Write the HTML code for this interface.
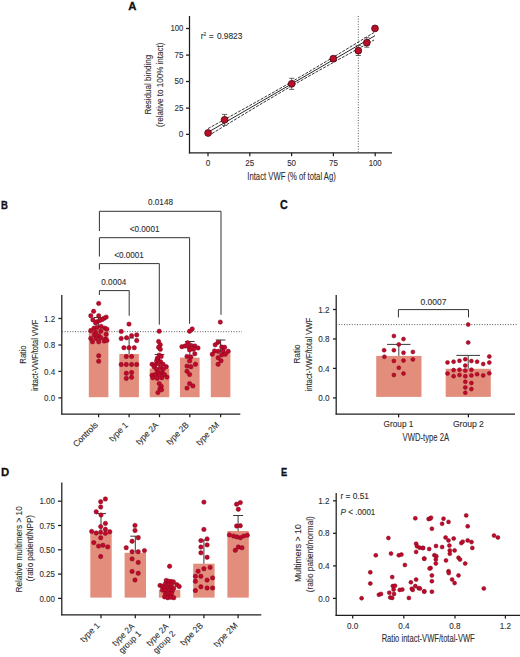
<!DOCTYPE html>
<html><head><meta charset="utf-8"><title>Figure</title>
<style>
html,body{margin:0;padding:0;background:#fff;}
body{width:520px;height:657px;overflow:hidden;font-family:"Liberation Sans", sans-serif;}
svg{display:block;}
svg text{font-family:"Liberation Sans", sans-serif;}
</style></head>
<body>
<svg width="520" height="657" viewBox="0 0 520 657">
<rect x="0" y="0" width="520" height="657" fill="#fff"/>
<text x="128.3" y="9.8" font-size="10.8" text-anchor="start" fill="#111" textLength="8.2" lengthAdjust="spacingAndGlyphs" font-weight="bold" stroke="#111" stroke-width="0.3">A</text>
<line x1="189.5" y1="16" x2="189.5" y2="153.4" stroke="#1e1e1e" stroke-width="1.25"/>
<line x1="188.9" y1="152.8" x2="392" y2="152.8" stroke="#1e1e1e" stroke-width="1.25"/>
<line x1="186" y1="28.5" x2="189.5" y2="28.5" stroke="#1e1e1e" stroke-width="1.25"/>
<text x="183.4" y="31.3" font-size="9.0" text-anchor="end" fill="#2e2e2e" textLength="13.0" lengthAdjust="spacingAndGlyphs" stroke="#2e2e2e" stroke-width="0.1">100</text>
<line x1="186" y1="55.1" x2="189.5" y2="55.1" stroke="#1e1e1e" stroke-width="1.25"/>
<text x="183.4" y="57.9" font-size="9.0" text-anchor="end" fill="#2e2e2e" textLength="8.9" lengthAdjust="spacingAndGlyphs" stroke="#2e2e2e" stroke-width="0.1">75</text>
<line x1="186" y1="81.5" x2="189.5" y2="81.5" stroke="#1e1e1e" stroke-width="1.25"/>
<text x="183.4" y="84.3" font-size="9.0" text-anchor="end" fill="#2e2e2e" textLength="8.9" lengthAdjust="spacingAndGlyphs" stroke="#2e2e2e" stroke-width="0.1">50</text>
<line x1="186" y1="108.1" x2="189.5" y2="108.1" stroke="#1e1e1e" stroke-width="1.25"/>
<text x="183.4" y="110.89999999999999" font-size="9.0" text-anchor="end" fill="#2e2e2e" textLength="8.9" lengthAdjust="spacingAndGlyphs" stroke="#2e2e2e" stroke-width="0.1">25</text>
<line x1="186" y1="134.4" x2="189.5" y2="134.4" stroke="#1e1e1e" stroke-width="1.25"/>
<text x="183.4" y="137.20000000000002" font-size="9.0" text-anchor="end" fill="#2e2e2e" textLength="4.6" lengthAdjust="spacingAndGlyphs" stroke="#2e2e2e" stroke-width="0.1">0</text>
<line x1="208.0" y1="152.8" x2="208.0" y2="156.2" stroke="#1e1e1e" stroke-width="1.25"/>
<text x="208.0" y="166.4" font-size="9.0" text-anchor="middle" fill="#2e2e2e" textLength="4.6" lengthAdjust="spacingAndGlyphs" stroke="#2e2e2e" stroke-width="0.1">0</text>
<line x1="249.8" y1="152.8" x2="249.8" y2="156.2" stroke="#1e1e1e" stroke-width="1.25"/>
<text x="249.8" y="166.4" font-size="9.0" text-anchor="middle" fill="#2e2e2e" textLength="8.9" lengthAdjust="spacingAndGlyphs" stroke="#2e2e2e" stroke-width="0.1">25</text>
<line x1="291.6" y1="152.8" x2="291.6" y2="156.2" stroke="#1e1e1e" stroke-width="1.25"/>
<text x="291.6" y="166.4" font-size="9.0" text-anchor="middle" fill="#2e2e2e" textLength="8.9" lengthAdjust="spacingAndGlyphs" stroke="#2e2e2e" stroke-width="0.1">50</text>
<line x1="333.4" y1="152.8" x2="333.4" y2="156.2" stroke="#1e1e1e" stroke-width="1.25"/>
<text x="333.4" y="166.4" font-size="9.0" text-anchor="middle" fill="#2e2e2e" textLength="8.9" lengthAdjust="spacingAndGlyphs" stroke="#2e2e2e" stroke-width="0.1">75</text>
<line x1="375.2" y1="152.8" x2="375.2" y2="156.2" stroke="#1e1e1e" stroke-width="1.25"/>
<text x="375.2" y="166.4" font-size="9.0" text-anchor="middle" fill="#2e2e2e" textLength="13.0" lengthAdjust="spacingAndGlyphs" stroke="#2e2e2e" stroke-width="0.1">100</text>
<text x="247.3" y="180.3" font-size="10.2" text-anchor="start" fill="#2e2e2e" textLength="88.5" lengthAdjust="spacingAndGlyphs" stroke="#2e2e2e" stroke-width="0.1">Intact VWF (% of total Ag)</text>
<text x="151.2" y="84.7" font-size="8.8" text-anchor="middle" fill="#2e2e2e" textLength="59.8" lengthAdjust="spacingAndGlyphs" stroke="#2e2e2e" stroke-width="0.1" transform="rotate(-90 151.2 84.7)">Residual binding</text>
<text x="163.4" y="84.8" font-size="8.8" text-anchor="middle" fill="#2e2e2e" textLength="84.4" lengthAdjust="spacingAndGlyphs" stroke="#2e2e2e" stroke-width="0.1" transform="rotate(-90 163.4 84.8)">(relative to 100% intact)</text>
<text x="200.8" y="38.8" font-size="8.2" text-anchor="start" fill="#2e2e2e" stroke="#2e2e2e" stroke-width="0.1">r</text>
<text x="203.6" y="35.6" font-size="4.6" text-anchor="start" fill="#2e2e2e" stroke="#2e2e2e" stroke-width="0.1">2</text>
<text x="209.0" y="38.8" font-size="8.2" text-anchor="start" fill="#2e2e2e" textLength="4.6" lengthAdjust="spacingAndGlyphs" stroke="#2e2e2e" stroke-width="0.1">=</text>
<text x="216.9" y="38.8" font-size="8.2" text-anchor="start" fill="#2e2e2e" textLength="25.4" lengthAdjust="spacingAndGlyphs" stroke="#2e2e2e" stroke-width="0.1">0.9823</text>
<line x1="358.3" y1="16" x2="358.3" y2="152.8" stroke="#444" stroke-width="0.9" stroke-dasharray="1 1.6"/>
<path d="M208.5 132.0 L375 35.7" stroke="#000" stroke-width="0.85" fill="none"/>
<path d="M208.0 128.59 L214.0 125.30 L220.0 122.01 L226.0 118.71 L232.0 115.40 L238.0 112.09 L244.0 108.76 L250.0 105.43 L256.0 102.08 L262.0 98.71 L268.0 95.33 L274.0 91.93 L280.0 88.51 L286.0 85.07 L292.0 81.60 L298.0 78.11 L304.0 74.60 L310.0 71.07 L316.0 67.51 L322.0 63.94 L328.0 60.35 L334.0 56.75 L340.0 53.14 L346.0 49.52 L352.0 45.89 L358.0 42.25 L364.0 38.61 L374.0 32.52" stroke="#000" stroke-width="0.8" fill="none" stroke-dasharray="3 1.3"/>
<path d="M212.0 133.55 L218.0 129.90 L224.0 126.26 L230.0 122.63 L236.0 119.00 L242.0 115.38 L248.0 111.77 L254.0 108.17 L260.0 104.59 L266.0 101.02 L272.0 97.48 L278.0 93.95 L284.0 90.44 L290.0 86.96 L296.0 83.50 L302.0 80.07 L308.0 76.65 L314.0 73.26 L320.0 69.89 L326.0 66.53 L332.0 63.19 L338.0 59.85 L344.0 56.53 L350.0 53.22 L356.0 49.91 L362.0 46.62 L368.0 43.32 L374.0 40.04" stroke="#000" stroke-width="0.8" fill="none" stroke-dasharray="3 1.3"/>
<line x1="224.6" y1="114.4" x2="224.6" y2="125.4" stroke="#555" stroke-width="0.9"/>
<line x1="222.0" y1="114.4" x2="227.2" y2="114.4" stroke="#555" stroke-width="0.9"/>
<line x1="222.0" y1="125.4" x2="227.2" y2="125.4" stroke="#555" stroke-width="0.9"/>
<line x1="291.7" y1="78.3" x2="291.7" y2="89.4" stroke="#555" stroke-width="0.9"/>
<line x1="289.09999999999997" y1="78.3" x2="294.3" y2="78.3" stroke="#555" stroke-width="0.9"/>
<line x1="289.09999999999997" y1="89.4" x2="294.3" y2="89.4" stroke="#555" stroke-width="0.9"/>
<line x1="358.3" y1="45.5" x2="358.3" y2="55.5" stroke="#555" stroke-width="0.9"/>
<line x1="355.7" y1="45.5" x2="360.90000000000003" y2="45.5" stroke="#555" stroke-width="0.9"/>
<line x1="355.7" y1="55.5" x2="360.90000000000003" y2="55.5" stroke="#555" stroke-width="0.9"/>
<line x1="366.8" y1="37.7" x2="366.8" y2="47.2" stroke="#555" stroke-width="0.9"/>
<line x1="364.2" y1="37.7" x2="369.40000000000003" y2="37.7" stroke="#555" stroke-width="0.9"/>
<line x1="364.2" y1="47.2" x2="369.40000000000003" y2="47.2" stroke="#555" stroke-width="0.9"/>
<circle cx="208.1" cy="133.0" r="3.4" fill="#b80e2a" stroke="#4a0510" stroke-width="0.8"/>
<circle cx="224.6" cy="119.8" r="3.4" fill="#b80e2a" stroke="#4a0510" stroke-width="0.8"/>
<circle cx="291.7" cy="83.8" r="3.4" fill="#b80e2a" stroke="#4a0510" stroke-width="0.8"/>
<circle cx="333.3" cy="58.7" r="3.4" fill="#b80e2a" stroke="#4a0510" stroke-width="0.8"/>
<circle cx="358.3" cy="50.7" r="3.4" fill="#b80e2a" stroke="#4a0510" stroke-width="0.8"/>
<circle cx="366.8" cy="42.7" r="3.4" fill="#b80e2a" stroke="#4a0510" stroke-width="0.8"/>
<circle cx="375.0" cy="28.4" r="3.4" fill="#b80e2a" stroke="#4a0510" stroke-width="0.8"/>
<text x="1.0" y="208.7" font-size="11.6" text-anchor="start" fill="#111" textLength="6.9" lengthAdjust="spacingAndGlyphs" font-weight="bold" stroke="#111" stroke-width="0.3">B</text>
<line x1="61.8" y1="295" x2="61.8" y2="414.6" stroke="#1e1e1e" stroke-width="1.25"/>
<line x1="61.2" y1="414.0" x2="240.3" y2="414.0" stroke="#1e1e1e" stroke-width="1.25"/>
<line x1="58.4" y1="318.5" x2="61.8" y2="318.5" stroke="#1e1e1e" stroke-width="1.25"/>
<text x="55.1" y="321.6" font-size="9.0" text-anchor="end" fill="#2e2e2e" textLength="11.1" lengthAdjust="spacingAndGlyphs" stroke="#2e2e2e" stroke-width="0.1">1.2</text>
<line x1="58.4" y1="345.0" x2="61.8" y2="345.0" stroke="#1e1e1e" stroke-width="1.25"/>
<text x="55.1" y="348.1" font-size="9.0" text-anchor="end" fill="#2e2e2e" textLength="11.1" lengthAdjust="spacingAndGlyphs" stroke="#2e2e2e" stroke-width="0.1">0.8</text>
<line x1="58.4" y1="371.4" x2="61.8" y2="371.4" stroke="#1e1e1e" stroke-width="1.25"/>
<text x="55.1" y="374.5" font-size="9.0" text-anchor="end" fill="#2e2e2e" textLength="11.1" lengthAdjust="spacingAndGlyphs" stroke="#2e2e2e" stroke-width="0.1">0.4</text>
<line x1="58.4" y1="397.9" x2="61.8" y2="397.9" stroke="#1e1e1e" stroke-width="1.25"/>
<text x="55.1" y="401.0" font-size="9.0" text-anchor="end" fill="#2e2e2e" textLength="11.1" lengthAdjust="spacingAndGlyphs" stroke="#2e2e2e" stroke-width="0.1">0.0</text>
<text x="26.0" y="354.5" font-size="9.6" text-anchor="middle" fill="#2e2e2e" textLength="18.3" lengthAdjust="spacingAndGlyphs" stroke="#2e2e2e" stroke-width="0.1" transform="rotate(-90 26.0 354.5)">Ratio</text>
<text x="37.6" y="355.3" font-size="8.8" text-anchor="middle" fill="#2e2e2e" textLength="71.3" lengthAdjust="spacingAndGlyphs" stroke="#2e2e2e" stroke-width="0.1" transform="rotate(-90 37.6 355.3)">intact-VWF/total VWF</text>
<line x1="62" y1="331.7" x2="242" y2="331.7" stroke="#444" stroke-width="0.9" stroke-dasharray="1 1.6"/>
<rect x="88.8" y="328.0" width="19.60" height="69.20" fill="#e38e7d"/>
<rect x="119.3" y="354.0" width="19.60" height="43.20" fill="#e38e7d"/>
<rect x="149.7" y="368.5" width="19.60" height="28.70" fill="#e38e7d"/>
<rect x="180.0" y="357.6" width="19.60" height="39.60" fill="#e38e7d"/>
<rect x="210.79999999999998" y="352.6" width="19.60" height="44.60" fill="#e38e7d"/>
<line x1="98.6" y1="414.0" x2="98.6" y2="417.2" stroke="#1e1e1e" stroke-width="1.25"/>
<line x1="129.1" y1="414.0" x2="129.1" y2="417.2" stroke="#1e1e1e" stroke-width="1.25"/>
<line x1="159.5" y1="414.0" x2="159.5" y2="417.2" stroke="#1e1e1e" stroke-width="1.25"/>
<line x1="189.8" y1="414.0" x2="189.8" y2="417.2" stroke="#1e1e1e" stroke-width="1.25"/>
<line x1="220.6" y1="414.0" x2="220.6" y2="417.2" stroke="#1e1e1e" stroke-width="1.25"/>
<path d="M99.4 231.0 L99.4 211.3 L221.0 211.3 L221.0 314.8" stroke="#333" stroke-width="1.0" fill="none"/>
<path d="M99.4 256.5 L99.4 237.7 L189.6 237.7 L189.6 323.8" stroke="#333" stroke-width="1.0" fill="none"/>
<path d="M99.4 269.6 L99.4 263.6 L159.3 263.6 L159.3 324.7" stroke="#333" stroke-width="1.0" fill="none"/>
<path d="M99.4 295.0 L99.4 290.6 L129.2 290.6 L129.2 315.8" stroke="#333" stroke-width="1.0" fill="none"/>
<text x="160.5" y="205.0" font-size="8.2" text-anchor="middle" fill="#2e2e2e" textLength="25.0" lengthAdjust="spacingAndGlyphs" stroke="#2e2e2e" stroke-width="0.1">0.0148</text>
<text x="144.6" y="231.8" font-size="8.2" text-anchor="middle" fill="#2e2e2e" textLength="29.7" lengthAdjust="spacingAndGlyphs" stroke="#2e2e2e" stroke-width="0.1">&lt;0.0001</text>
<text x="129.0" y="258.2" font-size="8.2" text-anchor="middle" fill="#2e2e2e" textLength="29.7" lengthAdjust="spacingAndGlyphs" stroke="#2e2e2e" stroke-width="0.1">&lt;0.0001</text>
<text x="113.8" y="284.6" font-size="8.2" text-anchor="middle" fill="#2e2e2e" textLength="25.0" lengthAdjust="spacingAndGlyphs" stroke="#2e2e2e" stroke-width="0.1">0.0004</text>
<text x="98.4" y="425.6" font-size="8.6" text-anchor="end" fill="#2e2e2e" textLength="31.0" lengthAdjust="spacingAndGlyphs" stroke="#2e2e2e" stroke-width="0.1" transform="rotate(-45 98.4 425.6)">Controls</text>
<text x="128.7" y="425.6" font-size="8.6" text-anchor="end" fill="#2e2e2e" textLength="23.3" lengthAdjust="spacingAndGlyphs" stroke="#2e2e2e" stroke-width="0.1" transform="rotate(-45 128.7 425.6)">type 1</text>
<text x="159.0" y="425.6" font-size="8.6" text-anchor="end" fill="#2e2e2e" textLength="27.8" lengthAdjust="spacingAndGlyphs" stroke="#2e2e2e" stroke-width="0.1" transform="rotate(-45 159.0 425.6)">type 2A</text>
<text x="189.4" y="425.6" font-size="8.6" text-anchor="end" fill="#2e2e2e" textLength="27.8" lengthAdjust="spacingAndGlyphs" stroke="#2e2e2e" stroke-width="0.1" transform="rotate(-45 189.4 425.6)">type 2B</text>
<text x="219.8" y="425.6" font-size="8.6" text-anchor="end" fill="#2e2e2e" textLength="28.7" lengthAdjust="spacingAndGlyphs" stroke="#2e2e2e" stroke-width="0.1" transform="rotate(-45 219.8 425.6)">type 2M</text>
<line x1="98.6" y1="317.5" x2="98.6" y2="328.0" stroke="#3a3a3a" stroke-width="1.0"/>
<line x1="93.8" y1="317.5" x2="103.39999999999999" y2="317.5" stroke="#3a3a3a" stroke-width="1.0"/>
<line x1="129.1" y1="338.0" x2="129.1" y2="354.0" stroke="#3a3a3a" stroke-width="1.0"/>
<line x1="124.3" y1="338.0" x2="133.9" y2="338.0" stroke="#3a3a3a" stroke-width="1.0"/>
<line x1="159.5" y1="354.5" x2="159.5" y2="368.5" stroke="#3a3a3a" stroke-width="1.0"/>
<line x1="154.7" y1="354.5" x2="164.3" y2="354.5" stroke="#3a3a3a" stroke-width="1.0"/>
<line x1="189.8" y1="341.5" x2="189.8" y2="357.6" stroke="#3a3a3a" stroke-width="1.0"/>
<line x1="185.0" y1="341.5" x2="194.60000000000002" y2="341.5" stroke="#3a3a3a" stroke-width="1.0"/>
<line x1="220.6" y1="340.0" x2="220.6" y2="352.6" stroke="#3a3a3a" stroke-width="1.0"/>
<line x1="215.79999999999998" y1="340.0" x2="225.4" y2="340.0" stroke="#3a3a3a" stroke-width="1.0"/>
<circle cx="98.7" cy="303.4" r="2.2" fill="#c2082b" stroke="#7c0a1c" stroke-width="0.5"/>
<circle cx="93.6" cy="311.3" r="2.2" fill="#c2082b" stroke="#7c0a1c" stroke-width="0.5"/>
<circle cx="90.8" cy="315.8" r="2.2" fill="#c2082b" stroke="#7c0a1c" stroke-width="0.5"/>
<circle cx="98.7" cy="315.8" r="2.2" fill="#c2082b" stroke="#7c0a1c" stroke-width="0.5"/>
<circle cx="106.2" cy="317.1" r="2.2" fill="#c2082b" stroke="#7c0a1c" stroke-width="0.5"/>
<circle cx="104.2" cy="318.2" r="2.2" fill="#c2082b" stroke="#7c0a1c" stroke-width="0.5"/>
<circle cx="102.1" cy="319.5" r="2.2" fill="#c2082b" stroke="#7c0a1c" stroke-width="0.5"/>
<circle cx="99.7" cy="320.5" r="2.2" fill="#c2082b" stroke="#7c0a1c" stroke-width="0.5"/>
<circle cx="97.3" cy="321.6" r="2.2" fill="#c2082b" stroke="#7c0a1c" stroke-width="0.5"/>
<circle cx="92.9" cy="319.9" r="2.2" fill="#c2082b" stroke="#7c0a1c" stroke-width="0.5"/>
<circle cx="95.6" cy="322.9" r="2.2" fill="#c2082b" stroke="#7c0a1c" stroke-width="0.5"/>
<circle cx="93.9" cy="328.1" r="2.2" fill="#c2082b" stroke="#7c0a1c" stroke-width="0.5"/>
<circle cx="97.0" cy="327.4" r="2.2" fill="#c2082b" stroke="#7c0a1c" stroke-width="0.5"/>
<circle cx="101.1" cy="326.4" r="2.2" fill="#c2082b" stroke="#7c0a1c" stroke-width="0.5"/>
<circle cx="104.9" cy="328.1" r="2.2" fill="#c2082b" stroke="#7c0a1c" stroke-width="0.5"/>
<circle cx="106.9" cy="329.1" r="2.2" fill="#c2082b" stroke="#7c0a1c" stroke-width="0.5"/>
<circle cx="90.8" cy="330.8" r="2.2" fill="#c2082b" stroke="#7c0a1c" stroke-width="0.5"/>
<circle cx="95.6" cy="332.2" r="2.2" fill="#c2082b" stroke="#7c0a1c" stroke-width="0.5"/>
<circle cx="100.8" cy="331.2" r="2.2" fill="#c2082b" stroke="#7c0a1c" stroke-width="0.5"/>
<circle cx="106.2" cy="334.2" r="2.2" fill="#c2082b" stroke="#7c0a1c" stroke-width="0.5"/>
<circle cx="94.2" cy="334.9" r="2.2" fill="#c2082b" stroke="#7c0a1c" stroke-width="0.5"/>
<circle cx="98.7" cy="335.6" r="2.2" fill="#c2082b" stroke="#7c0a1c" stroke-width="0.5"/>
<circle cx="90.8" cy="338.4" r="2.2" fill="#c2082b" stroke="#7c0a1c" stroke-width="0.5"/>
<circle cx="96.0" cy="338.4" r="2.2" fill="#c2082b" stroke="#7c0a1c" stroke-width="0.5"/>
<circle cx="100.8" cy="337.7" r="2.2" fill="#c2082b" stroke="#7c0a1c" stroke-width="0.5"/>
<circle cx="105.5" cy="339.0" r="2.2" fill="#c2082b" stroke="#7c0a1c" stroke-width="0.5"/>
<circle cx="92.5" cy="341.8" r="2.2" fill="#c2082b" stroke="#7c0a1c" stroke-width="0.5"/>
<circle cx="98.7" cy="341.8" r="2.2" fill="#c2082b" stroke="#7c0a1c" stroke-width="0.5"/>
<circle cx="104.2" cy="341.1" r="2.2" fill="#c2082b" stroke="#7c0a1c" stroke-width="0.5"/>
<circle cx="106.9" cy="340.4" r="2.2" fill="#c2082b" stroke="#7c0a1c" stroke-width="0.5"/>
<circle cx="98.7" cy="355.7" r="2.2" fill="#c2082b" stroke="#7c0a1c" stroke-width="0.5"/>
<circle cx="98.7" cy="361.3" r="2.2" fill="#c2082b" stroke="#7c0a1c" stroke-width="0.5"/>
<circle cx="129.0" cy="324.1" r="2.2" fill="#c2082b" stroke="#7c0a1c" stroke-width="0.5"/>
<circle cx="121.2" cy="331.4" r="2.2" fill="#c2082b" stroke="#7c0a1c" stroke-width="0.5"/>
<circle cx="121.2" cy="338.5" r="2.2" fill="#c2082b" stroke="#7c0a1c" stroke-width="0.5"/>
<circle cx="126.6" cy="337.8" r="2.2" fill="#c2082b" stroke="#7c0a1c" stroke-width="0.5"/>
<circle cx="131.6" cy="335.7" r="2.2" fill="#c2082b" stroke="#7c0a1c" stroke-width="0.5"/>
<circle cx="136.7" cy="334.9" r="2.2" fill="#c2082b" stroke="#7c0a1c" stroke-width="0.5"/>
<circle cx="136.7" cy="340.5" r="2.2" fill="#c2082b" stroke="#7c0a1c" stroke-width="0.5"/>
<circle cx="123.9" cy="347.7" r="2.2" fill="#c2082b" stroke="#7c0a1c" stroke-width="0.5"/>
<circle cx="129.0" cy="347.7" r="2.2" fill="#c2082b" stroke="#7c0a1c" stroke-width="0.5"/>
<circle cx="134.3" cy="347.7" r="2.2" fill="#c2082b" stroke="#7c0a1c" stroke-width="0.5"/>
<circle cx="126.3" cy="356.5" r="2.2" fill="#c2082b" stroke="#7c0a1c" stroke-width="0.5"/>
<circle cx="131.6" cy="356.5" r="2.2" fill="#c2082b" stroke="#7c0a1c" stroke-width="0.5"/>
<circle cx="121.2" cy="364.5" r="2.2" fill="#c2082b" stroke="#7c0a1c" stroke-width="0.5"/>
<circle cx="126.3" cy="364.5" r="2.2" fill="#c2082b" stroke="#7c0a1c" stroke-width="0.5"/>
<circle cx="131.6" cy="364.5" r="2.2" fill="#c2082b" stroke="#7c0a1c" stroke-width="0.5"/>
<circle cx="136.7" cy="364.5" r="2.2" fill="#c2082b" stroke="#7c0a1c" stroke-width="0.5"/>
<circle cx="126.3" cy="373.3" r="2.2" fill="#c2082b" stroke="#7c0a1c" stroke-width="0.5"/>
<circle cx="131.6" cy="372.5" r="2.2" fill="#c2082b" stroke="#7c0a1c" stroke-width="0.5"/>
<circle cx="126.3" cy="378.4" r="2.2" fill="#c2082b" stroke="#7c0a1c" stroke-width="0.5"/>
<circle cx="131.6" cy="377.3" r="2.2" fill="#c2082b" stroke="#7c0a1c" stroke-width="0.5"/>
<circle cx="159.2" cy="331.2" r="2.2" fill="#c2082b" stroke="#7c0a1c" stroke-width="0.5"/>
<circle cx="158.6" cy="341.5" r="2.2" fill="#c2082b" stroke="#7c0a1c" stroke-width="0.5"/>
<circle cx="160.3" cy="344.8" r="2.2" fill="#c2082b" stroke="#7c0a1c" stroke-width="0.5"/>
<circle cx="158.6" cy="347.3" r="2.2" fill="#c2082b" stroke="#7c0a1c" stroke-width="0.5"/>
<circle cx="160.3" cy="349.3" r="2.2" fill="#c2082b" stroke="#7c0a1c" stroke-width="0.5"/>
<circle cx="159.2" cy="355.1" r="2.2" fill="#c2082b" stroke="#7c0a1c" stroke-width="0.5"/>
<circle cx="161.2" cy="356.4" r="2.2" fill="#c2082b" stroke="#7c0a1c" stroke-width="0.5"/>
<circle cx="157.3" cy="358.3" r="2.2" fill="#c2082b" stroke="#7c0a1c" stroke-width="0.5"/>
<circle cx="156.6" cy="360.9" r="2.2" fill="#c2082b" stroke="#7c0a1c" stroke-width="0.5"/>
<circle cx="160.5" cy="361.6" r="2.2" fill="#c2082b" stroke="#7c0a1c" stroke-width="0.5"/>
<circle cx="152.1" cy="364.2" r="2.2" fill="#c2082b" stroke="#7c0a1c" stroke-width="0.5"/>
<circle cx="155.3" cy="364.8" r="2.2" fill="#c2082b" stroke="#7c0a1c" stroke-width="0.5"/>
<circle cx="158.6" cy="363.5" r="2.2" fill="#c2082b" stroke="#7c0a1c" stroke-width="0.5"/>
<circle cx="163.1" cy="364.2" r="2.2" fill="#c2082b" stroke="#7c0a1c" stroke-width="0.5"/>
<circle cx="166.3" cy="366.7" r="2.2" fill="#c2082b" stroke="#7c0a1c" stroke-width="0.5"/>
<circle cx="154.0" cy="366.7" r="2.2" fill="#c2082b" stroke="#7c0a1c" stroke-width="0.5"/>
<circle cx="160.5" cy="367.4" r="2.2" fill="#c2082b" stroke="#7c0a1c" stroke-width="0.5"/>
<circle cx="163.1" cy="369.3" r="2.2" fill="#c2082b" stroke="#7c0a1c" stroke-width="0.5"/>
<circle cx="156.6" cy="369.3" r="2.2" fill="#c2082b" stroke="#7c0a1c" stroke-width="0.5"/>
<circle cx="157.9" cy="371.9" r="2.2" fill="#c2082b" stroke="#7c0a1c" stroke-width="0.5"/>
<circle cx="161.8" cy="372.6" r="2.2" fill="#c2082b" stroke="#7c0a1c" stroke-width="0.5"/>
<circle cx="152.1" cy="375.2" r="2.2" fill="#c2082b" stroke="#7c0a1c" stroke-width="0.5"/>
<circle cx="155.3" cy="374.5" r="2.2" fill="#c2082b" stroke="#7c0a1c" stroke-width="0.5"/>
<circle cx="159.2" cy="374.5" r="2.2" fill="#c2082b" stroke="#7c0a1c" stroke-width="0.5"/>
<circle cx="164.4" cy="374.5" r="2.2" fill="#c2082b" stroke="#7c0a1c" stroke-width="0.5"/>
<circle cx="167.0" cy="377.1" r="2.2" fill="#c2082b" stroke="#7c0a1c" stroke-width="0.5"/>
<circle cx="152.8" cy="377.7" r="2.2" fill="#c2082b" stroke="#7c0a1c" stroke-width="0.5"/>
<circle cx="157.3" cy="378.4" r="2.2" fill="#c2082b" stroke="#7c0a1c" stroke-width="0.5"/>
<circle cx="161.8" cy="377.7" r="2.2" fill="#c2082b" stroke="#7c0a1c" stroke-width="0.5"/>
<circle cx="159.2" cy="383.6" r="2.2" fill="#c2082b" stroke="#7c0a1c" stroke-width="0.5"/>
<circle cx="161.2" cy="386.2" r="2.2" fill="#c2082b" stroke="#7c0a1c" stroke-width="0.5"/>
<circle cx="159.9" cy="388.7" r="2.2" fill="#c2082b" stroke="#7c0a1c" stroke-width="0.5"/>
<circle cx="161.6" cy="389.8" r="2.2" fill="#c2082b" stroke="#7c0a1c" stroke-width="0.5"/>
<circle cx="157.9" cy="392.6" r="2.2" fill="#c2082b" stroke="#7c0a1c" stroke-width="0.5"/>
<circle cx="189.6" cy="331.2" r="2.2" fill="#c2082b" stroke="#7c0a1c" stroke-width="0.5"/>
<circle cx="192.2" cy="329.0" r="2.2" fill="#c2082b" stroke="#7c0a1c" stroke-width="0.5"/>
<circle cx="187.7" cy="342.8" r="2.2" fill="#c2082b" stroke="#7c0a1c" stroke-width="0.5"/>
<circle cx="181.9" cy="346.7" r="2.2" fill="#c2082b" stroke="#7c0a1c" stroke-width="0.5"/>
<circle cx="185.1" cy="346.0" r="2.2" fill="#c2082b" stroke="#7c0a1c" stroke-width="0.5"/>
<circle cx="189.0" cy="347.3" r="2.2" fill="#c2082b" stroke="#7c0a1c" stroke-width="0.5"/>
<circle cx="190.9" cy="345.4" r="2.2" fill="#c2082b" stroke="#7c0a1c" stroke-width="0.5"/>
<circle cx="194.8" cy="346.0" r="2.2" fill="#c2082b" stroke="#7c0a1c" stroke-width="0.5"/>
<circle cx="198.0" cy="348.0" r="2.2" fill="#c2082b" stroke="#7c0a1c" stroke-width="0.5"/>
<circle cx="193.5" cy="349.3" r="2.2" fill="#c2082b" stroke="#7c0a1c" stroke-width="0.5"/>
<circle cx="189.6" cy="349.9" r="2.2" fill="#c2082b" stroke="#7c0a1c" stroke-width="0.5"/>
<circle cx="194.8" cy="353.8" r="2.2" fill="#c2082b" stroke="#7c0a1c" stroke-width="0.5"/>
<circle cx="187.0" cy="356.4" r="2.2" fill="#c2082b" stroke="#7c0a1c" stroke-width="0.5"/>
<circle cx="190.9" cy="357.0" r="2.2" fill="#c2082b" stroke="#7c0a1c" stroke-width="0.5"/>
<circle cx="189.6" cy="360.9" r="2.2" fill="#c2082b" stroke="#7c0a1c" stroke-width="0.5"/>
<circle cx="195.5" cy="364.2" r="2.2" fill="#c2082b" stroke="#7c0a1c" stroke-width="0.5"/>
<circle cx="187.0" cy="366.1" r="2.2" fill="#c2082b" stroke="#7c0a1c" stroke-width="0.5"/>
<circle cx="190.9" cy="366.7" r="2.2" fill="#c2082b" stroke="#7c0a1c" stroke-width="0.5"/>
<circle cx="187.0" cy="371.3" r="2.2" fill="#c2082b" stroke="#7c0a1c" stroke-width="0.5"/>
<circle cx="189.6" cy="374.5" r="2.2" fill="#c2082b" stroke="#7c0a1c" stroke-width="0.5"/>
<circle cx="189.6" cy="383.6" r="2.2" fill="#c2082b" stroke="#7c0a1c" stroke-width="0.5"/>
<circle cx="192.9" cy="385.9" r="2.2" fill="#c2082b" stroke="#7c0a1c" stroke-width="0.5"/>
<circle cx="187.0" cy="388.1" r="2.2" fill="#c2082b" stroke="#7c0a1c" stroke-width="0.5"/>
<circle cx="220.3" cy="322.1" r="2.2" fill="#c2082b" stroke="#7c0a1c" stroke-width="0.5"/>
<circle cx="218.1" cy="342.3" r="2.2" fill="#c2082b" stroke="#7c0a1c" stroke-width="0.5"/>
<circle cx="215.2" cy="344.8" r="2.2" fill="#c2082b" stroke="#7c0a1c" stroke-width="0.5"/>
<circle cx="221.7" cy="347.0" r="2.2" fill="#c2082b" stroke="#7c0a1c" stroke-width="0.5"/>
<circle cx="224.6" cy="347.3" r="2.2" fill="#c2082b" stroke="#7c0a1c" stroke-width="0.5"/>
<circle cx="214.5" cy="351.0" r="2.2" fill="#c2082b" stroke="#7c0a1c" stroke-width="0.5"/>
<circle cx="218.1" cy="351.3" r="2.2" fill="#c2082b" stroke="#7c0a1c" stroke-width="0.5"/>
<circle cx="223.2" cy="351.0" r="2.2" fill="#c2082b" stroke="#7c0a1c" stroke-width="0.5"/>
<circle cx="228.2" cy="351.3" r="2.2" fill="#c2082b" stroke="#7c0a1c" stroke-width="0.5"/>
<circle cx="212.3" cy="354.2" r="2.2" fill="#c2082b" stroke="#7c0a1c" stroke-width="0.5"/>
<circle cx="221.7" cy="354.9" r="2.2" fill="#c2082b" stroke="#7c0a1c" stroke-width="0.5"/>
<circle cx="225.3" cy="354.2" r="2.2" fill="#c2082b" stroke="#7c0a1c" stroke-width="0.5"/>
<circle cx="218.1" cy="357.8" r="2.2" fill="#c2082b" stroke="#7c0a1c" stroke-width="0.5"/>
<circle cx="221.0" cy="360.7" r="2.2" fill="#c2082b" stroke="#7c0a1c" stroke-width="0.5"/>
<circle cx="218.1" cy="364.3" r="2.2" fill="#c2082b" stroke="#7c0a1c" stroke-width="0.5"/>
<text x="280.1" y="208.7" font-size="12.0" text-anchor="start" fill="#111" textLength="7.8" lengthAdjust="spacingAndGlyphs" font-weight="bold" stroke="#111" stroke-width="0.3">C</text>
<line x1="336.2" y1="295" x2="336.2" y2="414.6" stroke="#1e1e1e" stroke-width="1.25"/>
<line x1="335.6" y1="414.0" x2="515.0" y2="414.0" stroke="#1e1e1e" stroke-width="1.25"/>
<line x1="333.0" y1="309.5" x2="336.2" y2="309.5" stroke="#1e1e1e" stroke-width="1.25"/>
<text x="329.6" y="312.6" font-size="9.0" text-anchor="end" fill="#2e2e2e" textLength="11.3" lengthAdjust="spacingAndGlyphs" stroke="#2e2e2e" stroke-width="0.1">1.2</text>
<line x1="333.0" y1="339.0" x2="336.2" y2="339.0" stroke="#1e1e1e" stroke-width="1.25"/>
<text x="329.6" y="342.1" font-size="9.0" text-anchor="end" fill="#2e2e2e" textLength="11.3" lengthAdjust="spacingAndGlyphs" stroke="#2e2e2e" stroke-width="0.1">0.8</text>
<line x1="333.0" y1="368.4" x2="336.2" y2="368.4" stroke="#1e1e1e" stroke-width="1.25"/>
<text x="329.6" y="371.5" font-size="9.0" text-anchor="end" fill="#2e2e2e" textLength="11.3" lengthAdjust="spacingAndGlyphs" stroke="#2e2e2e" stroke-width="0.1">0.4</text>
<line x1="333.0" y1="397.9" x2="336.2" y2="397.9" stroke="#1e1e1e" stroke-width="1.25"/>
<text x="329.6" y="401.0" font-size="9.0" text-anchor="end" fill="#2e2e2e" textLength="11.3" lengthAdjust="spacingAndGlyphs" stroke="#2e2e2e" stroke-width="0.1">0.0</text>
<text x="300.2" y="354.0" font-size="9.6" text-anchor="middle" fill="#2e2e2e" textLength="19.6" lengthAdjust="spacingAndGlyphs" stroke="#2e2e2e" stroke-width="0.1" transform="rotate(-90 300.2 354.0)">Ratio</text>
<text x="312.2" y="354.6" font-size="8.8" text-anchor="middle" fill="#2e2e2e" textLength="73.8" lengthAdjust="spacingAndGlyphs" stroke="#2e2e2e" stroke-width="0.1" transform="rotate(-90 312.2 354.6)">intact-VWF/total VWF</text>
<line x1="336.2" y1="324.6" x2="516.5" y2="324.6" stroke="#444" stroke-width="0.9" stroke-dasharray="1 1.6"/>
<rect x="376.2" y="355.9" width="45.30" height="41.00" fill="#e38e7d"/>
<rect x="445.7" y="368.8" width="45.10" height="28.10" fill="#e38e7d"/>
<line x1="398.6" y1="414.0" x2="398.6" y2="417.4" stroke="#1e1e1e" stroke-width="1.25"/>
<line x1="468.4" y1="414.0" x2="468.4" y2="417.4" stroke="#1e1e1e" stroke-width="1.25"/>
<path d="M398.4 317.4 L398.4 309.6 L468.5 309.6 L468.5 317.4" stroke="#333" stroke-width="1.0" fill="none"/>
<text x="433.5" y="305.0" font-size="8.2" text-anchor="middle" fill="#2e2e2e" textLength="25.9" lengthAdjust="spacingAndGlyphs" stroke="#2e2e2e" stroke-width="0.1">0.0007</text>
<text x="398.5" y="427.3" font-size="8.4" text-anchor="middle" fill="#2e2e2e" textLength="29.8" lengthAdjust="spacingAndGlyphs" stroke="#2e2e2e" stroke-width="0.1">Group 1</text>
<text x="468.4" y="427.3" font-size="8.4" text-anchor="middle" fill="#2e2e2e" textLength="31.0" lengthAdjust="spacingAndGlyphs" stroke="#2e2e2e" stroke-width="0.1">Group 2</text>
<text x="425.8" y="441.0" font-size="10.4" text-anchor="middle" fill="#2e2e2e" textLength="46.4" lengthAdjust="spacingAndGlyphs" stroke="#2e2e2e" stroke-width="0.1">VWD-type 2A</text>
<line x1="398.8" y1="344.4" x2="398.8" y2="355.9" stroke="#3a3a3a" stroke-width="1.0"/>
<line x1="387.1" y1="344.4" x2="410.5" y2="344.4" stroke="#3a3a3a" stroke-width="1.0"/>
<line x1="468.2" y1="355.4" x2="468.2" y2="368.8" stroke="#3a3a3a" stroke-width="1.0"/>
<line x1="456.4" y1="355.4" x2="480.0" y2="355.4" stroke="#3a3a3a" stroke-width="1.0"/>
<circle cx="393.9" cy="336.0" r="2.0" fill="#c2082b" stroke="#7c0a1c" stroke-width="0.5"/>
<circle cx="403.5" cy="339.0" r="2.0" fill="#c2082b" stroke="#7c0a1c" stroke-width="0.5"/>
<circle cx="398.8" cy="344.4" r="2.0" fill="#c2082b" stroke="#7c0a1c" stroke-width="0.5"/>
<circle cx="384.1" cy="350.2" r="2.0" fill="#c2082b" stroke="#7c0a1c" stroke-width="0.5"/>
<circle cx="393.9" cy="350.2" r="2.0" fill="#c2082b" stroke="#7c0a1c" stroke-width="0.5"/>
<circle cx="403.5" cy="352.8" r="2.0" fill="#c2082b" stroke="#7c0a1c" stroke-width="0.5"/>
<circle cx="412.9" cy="351.9" r="2.0" fill="#c2082b" stroke="#7c0a1c" stroke-width="0.5"/>
<circle cx="384.4" cy="356.8" r="2.0" fill="#c2082b" stroke="#7c0a1c" stroke-width="0.5"/>
<circle cx="393.9" cy="360.9" r="2.0" fill="#c2082b" stroke="#7c0a1c" stroke-width="0.5"/>
<circle cx="403.5" cy="360.6" r="2.0" fill="#c2082b" stroke="#7c0a1c" stroke-width="0.5"/>
<circle cx="412.9" cy="359.4" r="2.0" fill="#c2082b" stroke="#7c0a1c" stroke-width="0.5"/>
<circle cx="398.8" cy="367.8" r="2.0" fill="#c2082b" stroke="#7c0a1c" stroke-width="0.5"/>
<circle cx="393.9" cy="375.0" r="2.0" fill="#c2082b" stroke="#7c0a1c" stroke-width="0.5"/>
<circle cx="403.5" cy="373.6" r="2.0" fill="#c2082b" stroke="#7c0a1c" stroke-width="0.5"/>
<circle cx="468.2" cy="324.6" r="2.0" fill="#c2082b" stroke="#7c0a1c" stroke-width="0.5"/>
<circle cx="468.2" cy="342.5" r="2.0" fill="#c2082b" stroke="#7c0a1c" stroke-width="0.5"/>
<circle cx="447.5" cy="362.4" r="2.0" fill="#c2082b" stroke="#7c0a1c" stroke-width="0.5"/>
<circle cx="453.6" cy="361.7" r="2.0" fill="#c2082b" stroke="#7c0a1c" stroke-width="0.5"/>
<circle cx="459.5" cy="360.8" r="2.0" fill="#c2082b" stroke="#7c0a1c" stroke-width="0.5"/>
<circle cx="465.3" cy="359.3" r="2.0" fill="#c2082b" stroke="#7c0a1c" stroke-width="0.5"/>
<circle cx="471.4" cy="361.1" r="2.0" fill="#c2082b" stroke="#7c0a1c" stroke-width="0.5"/>
<circle cx="477.1" cy="361.7" r="2.0" fill="#c2082b" stroke="#7c0a1c" stroke-width="0.5"/>
<circle cx="483.2" cy="364.1" r="2.0" fill="#c2082b" stroke="#7c0a1c" stroke-width="0.5"/>
<circle cx="489.3" cy="356.5" r="2.0" fill="#c2082b" stroke="#7c0a1c" stroke-width="0.5"/>
<circle cx="489.3" cy="362.6" r="2.0" fill="#c2082b" stroke="#7c0a1c" stroke-width="0.5"/>
<circle cx="465.3" cy="365.6" r="2.0" fill="#c2082b" stroke="#7c0a1c" stroke-width="0.5"/>
<circle cx="453.6" cy="370.1" r="2.0" fill="#c2082b" stroke="#7c0a1c" stroke-width="0.5"/>
<circle cx="459.5" cy="369.7" r="2.0" fill="#c2082b" stroke="#7c0a1c" stroke-width="0.5"/>
<circle cx="465.3" cy="370.5" r="2.0" fill="#c2082b" stroke="#7c0a1c" stroke-width="0.5"/>
<circle cx="471.4" cy="369.7" r="2.0" fill="#c2082b" stroke="#7c0a1c" stroke-width="0.5"/>
<circle cx="447.5" cy="373.5" r="2.0" fill="#c2082b" stroke="#7c0a1c" stroke-width="0.5"/>
<circle cx="453.6" cy="376.2" r="2.0" fill="#c2082b" stroke="#7c0a1c" stroke-width="0.5"/>
<circle cx="459.5" cy="375.1" r="2.0" fill="#c2082b" stroke="#7c0a1c" stroke-width="0.5"/>
<circle cx="465.3" cy="376.2" r="2.0" fill="#c2082b" stroke="#7c0a1c" stroke-width="0.5"/>
<circle cx="471.4" cy="375.4" r="2.0" fill="#c2082b" stroke="#7c0a1c" stroke-width="0.5"/>
<circle cx="477.1" cy="374.2" r="2.0" fill="#c2082b" stroke="#7c0a1c" stroke-width="0.5"/>
<circle cx="483.2" cy="375.4" r="2.0" fill="#c2082b" stroke="#7c0a1c" stroke-width="0.5"/>
<circle cx="489.3" cy="373.3" r="2.0" fill="#c2082b" stroke="#7c0a1c" stroke-width="0.5"/>
<circle cx="465.3" cy="381.8" r="2.0" fill="#c2082b" stroke="#7c0a1c" stroke-width="0.5"/>
<circle cx="471.4" cy="383.0" r="2.0" fill="#c2082b" stroke="#7c0a1c" stroke-width="0.5"/>
<circle cx="465.3" cy="387.5" r="2.0" fill="#c2082b" stroke="#7c0a1c" stroke-width="0.5"/>
<circle cx="471.4" cy="389.1" r="2.0" fill="#c2082b" stroke="#7c0a1c" stroke-width="0.5"/>
<circle cx="465.3" cy="392.8" r="2.0" fill="#c2082b" stroke="#7c0a1c" stroke-width="0.5"/>
<text x="1.1" y="475.8" font-size="11.4" text-anchor="start" fill="#111" textLength="8.2" lengthAdjust="spacingAndGlyphs" font-weight="bold" stroke="#111" stroke-width="0.3">D</text>
<line x1="61.8" y1="482.5" x2="61.8" y2="615.3" stroke="#1e1e1e" stroke-width="1.25"/>
<line x1="61.2" y1="614.8" x2="261.3" y2="614.8" stroke="#1e1e1e" stroke-width="1.25"/>
<line x1="58.0" y1="501.2" x2="61.8" y2="501.2" stroke="#1e1e1e" stroke-width="1.25"/>
<text x="55.0" y="504.3" font-size="9.0" text-anchor="end" fill="#2e2e2e" textLength="15.6" lengthAdjust="spacingAndGlyphs" stroke="#2e2e2e" stroke-width="0.1">1.00</text>
<line x1="58.0" y1="525.5" x2="61.8" y2="525.5" stroke="#1e1e1e" stroke-width="1.25"/>
<text x="55.0" y="528.6" font-size="9.0" text-anchor="end" fill="#2e2e2e" textLength="15.6" lengthAdjust="spacingAndGlyphs" stroke="#2e2e2e" stroke-width="0.1">0.75</text>
<line x1="58.0" y1="549.8" x2="61.8" y2="549.8" stroke="#1e1e1e" stroke-width="1.25"/>
<text x="55.0" y="552.9" font-size="9.0" text-anchor="end" fill="#2e2e2e" textLength="15.6" lengthAdjust="spacingAndGlyphs" stroke="#2e2e2e" stroke-width="0.1">0.50</text>
<line x1="58.0" y1="574.1" x2="61.8" y2="574.1" stroke="#1e1e1e" stroke-width="1.25"/>
<text x="55.0" y="577.2" font-size="9.0" text-anchor="end" fill="#2e2e2e" textLength="15.6" lengthAdjust="spacingAndGlyphs" stroke="#2e2e2e" stroke-width="0.1">0.25</text>
<line x1="58.0" y1="598.4" x2="61.8" y2="598.4" stroke="#1e1e1e" stroke-width="1.25"/>
<text x="55.0" y="601.5" font-size="9.0" text-anchor="end" fill="#2e2e2e" textLength="15.6" lengthAdjust="spacingAndGlyphs" stroke="#2e2e2e" stroke-width="0.1">0.00</text>
<text x="22.0" y="549.4" font-size="8.6" text-anchor="middle" fill="#2e2e2e" textLength="86.3" lengthAdjust="spacingAndGlyphs" stroke="#2e2e2e" stroke-width="0.1" transform="rotate(-90 22.0 549.4)">Relative multimers &gt; 10</text>
<text x="33.0" y="548.1" font-size="8.6" text-anchor="middle" fill="#2e2e2e" textLength="66.3" lengthAdjust="spacingAndGlyphs" stroke="#2e2e2e" stroke-width="0.1" transform="rotate(-90 33.0 548.1)">(ratio patient/NPP)</text>
<rect x="90.3" y="533.0" width="21.40" height="64.60" fill="#e38e7d"/>
<rect x="124.60000000000001" y="552.8" width="21.40" height="44.80" fill="#e38e7d"/>
<rect x="158.9" y="589.8" width="21.40" height="7.80" fill="#e38e7d"/>
<rect x="193.20000000000002" y="563.7" width="21.40" height="33.90" fill="#e38e7d"/>
<rect x="227.4" y="531.0" width="21.40" height="66.60" fill="#e38e7d"/>
<line x1="101.0" y1="614.8" x2="101.0" y2="618.2" stroke="#1e1e1e" stroke-width="1.25"/>
<line x1="135.3" y1="614.8" x2="135.3" y2="618.2" stroke="#1e1e1e" stroke-width="1.25"/>
<line x1="169.6" y1="614.8" x2="169.6" y2="618.2" stroke="#1e1e1e" stroke-width="1.25"/>
<line x1="203.9" y1="614.8" x2="203.9" y2="618.2" stroke="#1e1e1e" stroke-width="1.25"/>
<line x1="238.1" y1="614.8" x2="238.1" y2="618.2" stroke="#1e1e1e" stroke-width="1.25"/>
<line x1="101.0" y1="513.6" x2="101.0" y2="533.0" stroke="#3a3a3a" stroke-width="1.0"/>
<line x1="96.0" y1="513.6" x2="106.0" y2="513.6" stroke="#3a3a3a" stroke-width="1.0"/>
<line x1="135.3" y1="536.2" x2="135.3" y2="552.8" stroke="#3a3a3a" stroke-width="1.0"/>
<line x1="130.3" y1="536.2" x2="140.3" y2="536.2" stroke="#3a3a3a" stroke-width="1.0"/>
<line x1="203.9" y1="540.0" x2="203.9" y2="563.7" stroke="#3a3a3a" stroke-width="1.0"/>
<line x1="198.9" y1="540.0" x2="208.9" y2="540.0" stroke="#3a3a3a" stroke-width="1.0"/>
<line x1="238.1" y1="515.5" x2="238.1" y2="531.0" stroke="#3a3a3a" stroke-width="1.0"/>
<line x1="233.1" y1="515.5" x2="243.1" y2="515.5" stroke="#3a3a3a" stroke-width="1.0"/>
<text x="100.4" y="626.0" font-size="8.6" text-anchor="end" fill="#2e2e2e" textLength="23.8" lengthAdjust="spacingAndGlyphs" stroke="#2e2e2e" stroke-width="0.1" transform="rotate(-45 100.4 626.0)">type 1</text>
<text x="135.0" y="627.0" font-size="8.6" text-anchor="end" fill="#2e2e2e" textLength="27.5" lengthAdjust="spacingAndGlyphs" stroke="#2e2e2e" stroke-width="0.1" transform="rotate(-45 135.0 627.0)">type 2A</text>
<text x="203.6" y="626.0" font-size="8.6" text-anchor="end" fill="#2e2e2e" textLength="28.4" lengthAdjust="spacingAndGlyphs" stroke="#2e2e2e" stroke-width="0.1" transform="rotate(-45 203.6 626.0)">type 2B</text>
<text x="238.2" y="626.0" font-size="8.6" text-anchor="end" fill="#2e2e2e" textLength="30.4" lengthAdjust="spacingAndGlyphs" stroke="#2e2e2e" stroke-width="0.1" transform="rotate(-45 238.2 626.0)">type 2M</text>
<text x="169.2" y="627.0" font-size="8.6" text-anchor="end" fill="#2e2e2e" textLength="27.5" lengthAdjust="spacingAndGlyphs" stroke="#2e2e2e" stroke-width="0.1" transform="rotate(-45 169.2 627.0)">type 2A</text>
<text x="141.6" y="634.4" font-size="8.6" text-anchor="end" fill="#2e2e2e" textLength="27.3" lengthAdjust="spacingAndGlyphs" stroke="#2e2e2e" stroke-width="0.1" transform="rotate(-45 141.6 634.4)">group 1</text>
<text x="175.8" y="634.4" font-size="8.6" text-anchor="end" fill="#2e2e2e" textLength="27.3" lengthAdjust="spacingAndGlyphs" stroke="#2e2e2e" stroke-width="0.1" transform="rotate(-45 175.8 634.4)">group 2</text>
<circle cx="105.4" cy="499.0" r="2.2" fill="#c2082b" stroke="#7c0a1c" stroke-width="0.5"/>
<circle cx="100.7" cy="501.7" r="2.2" fill="#c2082b" stroke="#7c0a1c" stroke-width="0.5"/>
<circle cx="100.7" cy="507.0" r="2.2" fill="#c2082b" stroke="#7c0a1c" stroke-width="0.5"/>
<circle cx="96.2" cy="511.8" r="2.2" fill="#c2082b" stroke="#7c0a1c" stroke-width="0.5"/>
<circle cx="101.0" cy="515.0" r="2.2" fill="#c2082b" stroke="#7c0a1c" stroke-width="0.5"/>
<circle cx="105.4" cy="523.4" r="2.2" fill="#c2082b" stroke="#7c0a1c" stroke-width="0.5"/>
<circle cx="100.7" cy="526.6" r="2.2" fill="#c2082b" stroke="#7c0a1c" stroke-width="0.5"/>
<circle cx="105.4" cy="529.3" r="2.2" fill="#c2082b" stroke="#7c0a1c" stroke-width="0.5"/>
<circle cx="91.7" cy="531.4" r="2.2" fill="#c2082b" stroke="#7c0a1c" stroke-width="0.5"/>
<circle cx="96.2" cy="533.0" r="2.2" fill="#c2082b" stroke="#7c0a1c" stroke-width="0.5"/>
<circle cx="100.7" cy="532.1" r="2.2" fill="#c2082b" stroke="#7c0a1c" stroke-width="0.5"/>
<circle cx="105.4" cy="533.3" r="2.2" fill="#c2082b" stroke="#7c0a1c" stroke-width="0.5"/>
<circle cx="109.8" cy="531.7" r="2.2" fill="#c2082b" stroke="#7c0a1c" stroke-width="0.5"/>
<circle cx="100.7" cy="537.8" r="2.2" fill="#c2082b" stroke="#7c0a1c" stroke-width="0.5"/>
<circle cx="93.8" cy="542.6" r="2.2" fill="#c2082b" stroke="#7c0a1c" stroke-width="0.5"/>
<circle cx="98.6" cy="546.1" r="2.2" fill="#c2082b" stroke="#7c0a1c" stroke-width="0.5"/>
<circle cx="102.9" cy="545.3" r="2.2" fill="#c2082b" stroke="#7c0a1c" stroke-width="0.5"/>
<circle cx="107.7" cy="546.9" r="2.2" fill="#c2082b" stroke="#7c0a1c" stroke-width="0.5"/>
<circle cx="100.7" cy="556.5" r="2.2" fill="#c2082b" stroke="#7c0a1c" stroke-width="0.5"/>
<circle cx="135.0" cy="525.4" r="2.2" fill="#c2082b" stroke="#7c0a1c" stroke-width="0.5"/>
<circle cx="135.0" cy="530.5" r="2.2" fill="#c2082b" stroke="#7c0a1c" stroke-width="0.5"/>
<circle cx="138.2" cy="537.8" r="2.2" fill="#c2082b" stroke="#7c0a1c" stroke-width="0.5"/>
<circle cx="132.1" cy="541.3" r="2.2" fill="#c2082b" stroke="#7c0a1c" stroke-width="0.5"/>
<circle cx="126.2" cy="547.7" r="2.2" fill="#c2082b" stroke="#7c0a1c" stroke-width="0.5"/>
<circle cx="132.1" cy="551.7" r="2.2" fill="#c2082b" stroke="#7c0a1c" stroke-width="0.5"/>
<circle cx="138.2" cy="551.7" r="2.2" fill="#c2082b" stroke="#7c0a1c" stroke-width="0.5"/>
<circle cx="144.4" cy="550.6" r="2.2" fill="#c2082b" stroke="#7c0a1c" stroke-width="0.5"/>
<circle cx="132.1" cy="558.9" r="2.2" fill="#c2082b" stroke="#7c0a1c" stroke-width="0.5"/>
<circle cx="138.2" cy="562.4" r="2.2" fill="#c2082b" stroke="#7c0a1c" stroke-width="0.5"/>
<circle cx="132.1" cy="571.4" r="2.2" fill="#c2082b" stroke="#7c0a1c" stroke-width="0.5"/>
<circle cx="138.2" cy="573.3" r="2.2" fill="#c2082b" stroke="#7c0a1c" stroke-width="0.5"/>
<circle cx="135.0" cy="580.0" r="2.2" fill="#c2082b" stroke="#7c0a1c" stroke-width="0.5"/>
<circle cx="169.6" cy="566.2" r="2.2" fill="#c2082b" stroke="#7c0a1c" stroke-width="0.5"/>
<circle cx="166.2" cy="580.4" r="2.2" fill="#c2082b" stroke="#7c0a1c" stroke-width="0.5"/>
<circle cx="168.8" cy="581.2" r="2.2" fill="#c2082b" stroke="#7c0a1c" stroke-width="0.5"/>
<circle cx="171.2" cy="581.5" r="2.2" fill="#c2082b" stroke="#7c0a1c" stroke-width="0.5"/>
<circle cx="173.5" cy="581.9" r="2.2" fill="#c2082b" stroke="#7c0a1c" stroke-width="0.5"/>
<circle cx="160.0" cy="585.4" r="2.2" fill="#c2082b" stroke="#7c0a1c" stroke-width="0.5"/>
<circle cx="162.3" cy="586.2" r="2.2" fill="#c2082b" stroke="#7c0a1c" stroke-width="0.5"/>
<circle cx="165.4" cy="583.8" r="2.2" fill="#c2082b" stroke="#7c0a1c" stroke-width="0.5"/>
<circle cx="168.5" cy="584.2" r="2.2" fill="#c2082b" stroke="#7c0a1c" stroke-width="0.5"/>
<circle cx="171.5" cy="584.6" r="2.2" fill="#c2082b" stroke="#7c0a1c" stroke-width="0.5"/>
<circle cx="176.9" cy="584.6" r="2.2" fill="#c2082b" stroke="#7c0a1c" stroke-width="0.5"/>
<circle cx="179.2" cy="586.5" r="2.2" fill="#c2082b" stroke="#7c0a1c" stroke-width="0.5"/>
<circle cx="164.6" cy="587.7" r="2.2" fill="#c2082b" stroke="#7c0a1c" stroke-width="0.5"/>
<circle cx="167.7" cy="588.1" r="2.2" fill="#c2082b" stroke="#7c0a1c" stroke-width="0.5"/>
<circle cx="170.8" cy="587.7" r="2.2" fill="#c2082b" stroke="#7c0a1c" stroke-width="0.5"/>
<circle cx="173.8" cy="588.1" r="2.2" fill="#c2082b" stroke="#7c0a1c" stroke-width="0.5"/>
<circle cx="162.3" cy="590.0" r="2.2" fill="#c2082b" stroke="#7c0a1c" stroke-width="0.5"/>
<circle cx="165.4" cy="590.4" r="2.2" fill="#c2082b" stroke="#7c0a1c" stroke-width="0.5"/>
<circle cx="169.2" cy="590.0" r="2.2" fill="#c2082b" stroke="#7c0a1c" stroke-width="0.5"/>
<circle cx="172.3" cy="590.8" r="2.2" fill="#c2082b" stroke="#7c0a1c" stroke-width="0.5"/>
<circle cx="165.4" cy="593.8" r="2.2" fill="#c2082b" stroke="#7c0a1c" stroke-width="0.5"/>
<circle cx="168.5" cy="594.2" r="2.2" fill="#c2082b" stroke="#7c0a1c" stroke-width="0.5"/>
<circle cx="171.5" cy="593.8" r="2.2" fill="#c2082b" stroke="#7c0a1c" stroke-width="0.5"/>
<circle cx="164.6" cy="596.9" r="2.2" fill="#c2082b" stroke="#7c0a1c" stroke-width="0.5"/>
<circle cx="167.7" cy="597.7" r="2.2" fill="#c2082b" stroke="#7c0a1c" stroke-width="0.5"/>
<circle cx="170.8" cy="597.3" r="2.2" fill="#c2082b" stroke="#7c0a1c" stroke-width="0.5"/>
<circle cx="173.8" cy="597.7" r="2.2" fill="#c2082b" stroke="#7c0a1c" stroke-width="0.5"/>
<circle cx="203.9" cy="502.1" r="2.2" fill="#c2082b" stroke="#7c0a1c" stroke-width="0.5"/>
<circle cx="203.9" cy="529.4" r="2.2" fill="#c2082b" stroke="#7c0a1c" stroke-width="0.5"/>
<circle cx="200.9" cy="540.6" r="2.2" fill="#c2082b" stroke="#7c0a1c" stroke-width="0.5"/>
<circle cx="207.1" cy="538.9" r="2.2" fill="#c2082b" stroke="#7c0a1c" stroke-width="0.5"/>
<circle cx="200.9" cy="547.0" r="2.2" fill="#c2082b" stroke="#7c0a1c" stroke-width="0.5"/>
<circle cx="207.1" cy="544.9" r="2.2" fill="#c2082b" stroke="#7c0a1c" stroke-width="0.5"/>
<circle cx="200.9" cy="552.8" r="2.2" fill="#c2082b" stroke="#7c0a1c" stroke-width="0.5"/>
<circle cx="207.1" cy="557.3" r="2.2" fill="#c2082b" stroke="#7c0a1c" stroke-width="0.5"/>
<circle cx="210.1" cy="567.4" r="2.2" fill="#c2082b" stroke="#7c0a1c" stroke-width="0.5"/>
<circle cx="203.9" cy="568.7" r="2.2" fill="#c2082b" stroke="#7c0a1c" stroke-width="0.5"/>
<circle cx="198.1" cy="571.2" r="2.2" fill="#c2082b" stroke="#7c0a1c" stroke-width="0.5"/>
<circle cx="195.4" cy="576.3" r="2.2" fill="#c2082b" stroke="#7c0a1c" stroke-width="0.5"/>
<circle cx="200.9" cy="576.3" r="2.2" fill="#c2082b" stroke="#7c0a1c" stroke-width="0.5"/>
<circle cx="212.6" cy="577.9" r="2.2" fill="#c2082b" stroke="#7c0a1c" stroke-width="0.5"/>
<circle cx="195.4" cy="581.3" r="2.2" fill="#c2082b" stroke="#7c0a1c" stroke-width="0.5"/>
<circle cx="207.1" cy="580.1" r="2.2" fill="#c2082b" stroke="#7c0a1c" stroke-width="0.5"/>
<circle cx="200.9" cy="586.8" r="2.2" fill="#c2082b" stroke="#7c0a1c" stroke-width="0.5"/>
<circle cx="207.1" cy="588.0" r="2.2" fill="#c2082b" stroke="#7c0a1c" stroke-width="0.5"/>
<circle cx="212.6" cy="588.0" r="2.2" fill="#c2082b" stroke="#7c0a1c" stroke-width="0.5"/>
<circle cx="195.4" cy="590.5" r="2.2" fill="#c2082b" stroke="#7c0a1c" stroke-width="0.5"/>
<circle cx="236.6" cy="504.2" r="2.2" fill="#c2082b" stroke="#7c0a1c" stroke-width="0.5"/>
<circle cx="240.3" cy="502.6" r="2.2" fill="#c2082b" stroke="#7c0a1c" stroke-width="0.5"/>
<circle cx="238.3" cy="509.3" r="2.2" fill="#c2082b" stroke="#7c0a1c" stroke-width="0.5"/>
<circle cx="236.6" cy="526.0" r="2.2" fill="#c2082b" stroke="#7c0a1c" stroke-width="0.5"/>
<circle cx="240.3" cy="525.7" r="2.2" fill="#c2082b" stroke="#7c0a1c" stroke-width="0.5"/>
<circle cx="229.4" cy="534.9" r="2.2" fill="#c2082b" stroke="#7c0a1c" stroke-width="0.5"/>
<circle cx="233.6" cy="536.1" r="2.2" fill="#c2082b" stroke="#7c0a1c" stroke-width="0.5"/>
<circle cx="236.9" cy="536.9" r="2.2" fill="#c2082b" stroke="#7c0a1c" stroke-width="0.5"/>
<circle cx="240.3" cy="537.7" r="2.2" fill="#c2082b" stroke="#7c0a1c" stroke-width="0.5"/>
<circle cx="243.6" cy="536.1" r="2.2" fill="#c2082b" stroke="#7c0a1c" stroke-width="0.5"/>
<circle cx="247.3" cy="535.2" r="2.2" fill="#c2082b" stroke="#7c0a1c" stroke-width="0.5"/>
<circle cx="235.3" cy="550.3" r="2.2" fill="#c2082b" stroke="#7c0a1c" stroke-width="0.5"/>
<circle cx="238.3" cy="547.0" r="2.2" fill="#c2082b" stroke="#7c0a1c" stroke-width="0.5"/>
<circle cx="242.0" cy="547.8" r="2.2" fill="#c2082b" stroke="#7c0a1c" stroke-width="0.5"/>
<text x="281.0" y="475.8" font-size="11.0" text-anchor="start" fill="#111" textLength="6.2" lengthAdjust="spacingAndGlyphs" font-weight="bold" stroke="#111" stroke-width="0.3">E</text>
<line x1="336.2" y1="493" x2="336.2" y2="615.9" stroke="#1e1e1e" stroke-width="1.25"/>
<line x1="335.6" y1="615.3" x2="520" y2="615.3" stroke="#1e1e1e" stroke-width="1.25"/>
<line x1="333.0" y1="500.8" x2="336.2" y2="500.8" stroke="#1e1e1e" stroke-width="1.25"/>
<text x="329.6" y="503.90000000000003" font-size="9.0" text-anchor="end" fill="#2e2e2e" textLength="11.3" lengthAdjust="spacingAndGlyphs" stroke="#2e2e2e" stroke-width="0.1">1.2</text>
<line x1="333.0" y1="533.3" x2="336.2" y2="533.3" stroke="#1e1e1e" stroke-width="1.25"/>
<text x="329.6" y="536.4" font-size="9.0" text-anchor="end" fill="#2e2e2e" textLength="11.3" lengthAdjust="spacingAndGlyphs" stroke="#2e2e2e" stroke-width="0.1">0.8</text>
<line x1="333.0" y1="565.9" x2="336.2" y2="565.9" stroke="#1e1e1e" stroke-width="1.25"/>
<text x="329.6" y="569.0" font-size="9.0" text-anchor="end" fill="#2e2e2e" textLength="11.3" lengthAdjust="spacingAndGlyphs" stroke="#2e2e2e" stroke-width="0.1">0.4</text>
<line x1="333.0" y1="598.4" x2="336.2" y2="598.4" stroke="#1e1e1e" stroke-width="1.25"/>
<text x="329.6" y="601.5" font-size="9.0" text-anchor="end" fill="#2e2e2e" textLength="11.3" lengthAdjust="spacingAndGlyphs" stroke="#2e2e2e" stroke-width="0.1">0.0</text>
<line x1="352.7" y1="615.3" x2="352.7" y2="618.6" stroke="#1e1e1e" stroke-width="1.25"/>
<text x="352.7" y="628.8" font-size="9.0" text-anchor="middle" fill="#2e2e2e" textLength="11.3" lengthAdjust="spacingAndGlyphs" stroke="#2e2e2e" stroke-width="0.1">0.0</text>
<line x1="403.8" y1="615.3" x2="403.8" y2="618.6" stroke="#1e1e1e" stroke-width="1.25"/>
<text x="403.8" y="628.8" font-size="9.0" text-anchor="middle" fill="#2e2e2e" textLength="11.3" lengthAdjust="spacingAndGlyphs" stroke="#2e2e2e" stroke-width="0.1">0.4</text>
<line x1="455.0" y1="615.3" x2="455.0" y2="618.6" stroke="#1e1e1e" stroke-width="1.25"/>
<text x="455.0" y="628.8" font-size="9.0" text-anchor="middle" fill="#2e2e2e" textLength="11.3" lengthAdjust="spacingAndGlyphs" stroke="#2e2e2e" stroke-width="0.1">0.8</text>
<line x1="505.4" y1="615.3" x2="505.4" y2="618.6" stroke="#1e1e1e" stroke-width="1.25"/>
<text x="505.4" y="628.8" font-size="9.0" text-anchor="middle" fill="#2e2e2e" textLength="11.3" lengthAdjust="spacingAndGlyphs" stroke="#2e2e2e" stroke-width="0.1">1.2</text>
<text x="428.2" y="641.9" font-size="10.0" text-anchor="middle" fill="#2e2e2e" textLength="93.1" lengthAdjust="spacingAndGlyphs" stroke="#2e2e2e" stroke-width="0.1">Ratio intact-VWF/total-VWF</text>
<text x="301.0" y="553.1" font-size="8.8" text-anchor="middle" fill="#2e2e2e" textLength="57.8" lengthAdjust="spacingAndGlyphs" stroke="#2e2e2e" stroke-width="0.1" transform="rotate(-90 301.0 553.1)">Multimers &gt; 10</text>
<text x="313.0" y="554.2" font-size="8.8" text-anchor="middle" fill="#2e2e2e" textLength="76.1" lengthAdjust="spacingAndGlyphs" stroke="#2e2e2e" stroke-width="0.1" transform="rotate(-90 313.0 554.2)">(ratio patient/normal)</text>
<text x="340.5" y="499.4" font-size="8.2" text-anchor="start" fill="#2e2e2e" textLength="28.4" lengthAdjust="spacingAndGlyphs" stroke="#2e2e2e" stroke-width="0.1">r = 0.51</text>
<text x="340.5" y="515.0" font-size="8.2" text-anchor="start" fill="#2e2e2e" stroke="#2e2e2e" stroke-width="0.1" font-style="italic">P</text>
<text x="348.3" y="515.0" font-size="8.2" text-anchor="start" fill="#2e2e2e" stroke="#2e2e2e" stroke-width="0.1">&lt;</text>
<text x="355.3" y="515.0" font-size="8.2" text-anchor="start" fill="#2e2e2e" textLength="20.0" lengthAdjust="spacingAndGlyphs" stroke="#2e2e2e" stroke-width="0.1">.0001</text>
<circle cx="415.3" cy="518.3" r="2.0" fill="#c2082b" stroke="#7c0a1c" stroke-width="0.5"/>
<circle cx="428.6" cy="519.0" r="2.0" fill="#c2082b" stroke="#7c0a1c" stroke-width="0.5"/>
<circle cx="388.4" cy="538.0" r="2.0" fill="#c2082b" stroke="#7c0a1c" stroke-width="0.5"/>
<circle cx="416.1" cy="543.7" r="2.0" fill="#c2082b" stroke="#7c0a1c" stroke-width="0.5"/>
<circle cx="417.0" cy="546.3" r="2.0" fill="#c2082b" stroke="#7c0a1c" stroke-width="0.5"/>
<circle cx="419.6" cy="547.7" r="2.0" fill="#c2082b" stroke="#7c0a1c" stroke-width="0.5"/>
<circle cx="423.0" cy="548.0" r="2.0" fill="#c2082b" stroke="#7c0a1c" stroke-width="0.5"/>
<circle cx="416.1" cy="551.9" r="2.0" fill="#c2082b" stroke="#7c0a1c" stroke-width="0.5"/>
<circle cx="375.8" cy="555.3" r="2.0" fill="#c2082b" stroke="#7c0a1c" stroke-width="0.5"/>
<circle cx="391.0" cy="553.6" r="2.0" fill="#c2082b" stroke="#7c0a1c" stroke-width="0.5"/>
<circle cx="398.8" cy="555.3" r="2.0" fill="#c2082b" stroke="#7c0a1c" stroke-width="0.5"/>
<circle cx="401.4" cy="554.6" r="2.0" fill="#c2082b" stroke="#7c0a1c" stroke-width="0.5"/>
<circle cx="424.3" cy="558.8" r="2.0" fill="#c2082b" stroke="#7c0a1c" stroke-width="0.5"/>
<circle cx="404.9" cy="565.0" r="2.0" fill="#c2082b" stroke="#7c0a1c" stroke-width="0.5"/>
<circle cx="370.3" cy="572.3" r="2.0" fill="#c2082b" stroke="#7c0a1c" stroke-width="0.5"/>
<circle cx="392.2" cy="577.1" r="2.0" fill="#c2082b" stroke="#7c0a1c" stroke-width="0.5"/>
<circle cx="370.3" cy="583.5" r="2.0" fill="#c2082b" stroke="#7c0a1c" stroke-width="0.5"/>
<circle cx="410.9" cy="582.3" r="2.0" fill="#c2082b" stroke="#7c0a1c" stroke-width="0.5"/>
<circle cx="416.1" cy="579.6" r="2.0" fill="#c2082b" stroke="#7c0a1c" stroke-width="0.5"/>
<circle cx="392.8" cy="586.1" r="2.0" fill="#c2082b" stroke="#7c0a1c" stroke-width="0.5"/>
<circle cx="395.0" cy="585.8" r="2.0" fill="#c2082b" stroke="#7c0a1c" stroke-width="0.5"/>
<circle cx="393.6" cy="589.6" r="2.0" fill="#c2082b" stroke="#7c0a1c" stroke-width="0.5"/>
<circle cx="399.7" cy="589.9" r="2.0" fill="#c2082b" stroke="#7c0a1c" stroke-width="0.5"/>
<circle cx="402.3" cy="589.6" r="2.0" fill="#c2082b" stroke="#7c0a1c" stroke-width="0.5"/>
<circle cx="411.8" cy="588.7" r="2.0" fill="#c2082b" stroke="#7c0a1c" stroke-width="0.5"/>
<circle cx="415.3" cy="586.1" r="2.0" fill="#c2082b" stroke="#7c0a1c" stroke-width="0.5"/>
<circle cx="418.7" cy="588.2" r="2.0" fill="#c2082b" stroke="#7c0a1c" stroke-width="0.5"/>
<circle cx="412.7" cy="589.9" r="2.0" fill="#c2082b" stroke="#7c0a1c" stroke-width="0.5"/>
<circle cx="424.3" cy="591.3" r="2.0" fill="#c2082b" stroke="#7c0a1c" stroke-width="0.5"/>
<circle cx="378.9" cy="594.8" r="2.0" fill="#c2082b" stroke="#7c0a1c" stroke-width="0.5"/>
<circle cx="381.0" cy="593.9" r="2.0" fill="#c2082b" stroke="#7c0a1c" stroke-width="0.5"/>
<circle cx="389.3" cy="592.7" r="2.0" fill="#c2082b" stroke="#7c0a1c" stroke-width="0.5"/>
<circle cx="394.0" cy="593.9" r="2.0" fill="#c2082b" stroke="#7c0a1c" stroke-width="0.5"/>
<circle cx="390.2" cy="597.4" r="2.0" fill="#c2082b" stroke="#7c0a1c" stroke-width="0.5"/>
<circle cx="392.2" cy="597.9" r="2.0" fill="#c2082b" stroke="#7c0a1c" stroke-width="0.5"/>
<circle cx="408.9" cy="597.9" r="2.0" fill="#c2082b" stroke="#7c0a1c" stroke-width="0.5"/>
<circle cx="361.6" cy="598.2" r="2.0" fill="#c2082b" stroke="#7c0a1c" stroke-width="0.5"/>
<circle cx="430.0" cy="518.7" r="2.0" fill="#c2082b" stroke="#7c0a1c" stroke-width="0.5"/>
<circle cx="431.0" cy="517.7" r="2.0" fill="#c2082b" stroke="#7c0a1c" stroke-width="0.5"/>
<circle cx="443.5" cy="518.7" r="2.0" fill="#c2082b" stroke="#7c0a1c" stroke-width="0.5"/>
<circle cx="442.1" cy="523.8" r="2.0" fill="#c2082b" stroke="#7c0a1c" stroke-width="0.5"/>
<circle cx="448.5" cy="521.9" r="2.0" fill="#c2082b" stroke="#7c0a1c" stroke-width="0.5"/>
<circle cx="466.2" cy="515.4" r="2.0" fill="#c2082b" stroke="#7c0a1c" stroke-width="0.5"/>
<circle cx="467.7" cy="526.3" r="2.0" fill="#c2082b" stroke="#7c0a1c" stroke-width="0.5"/>
<circle cx="431.9" cy="528.7" r="2.0" fill="#c2082b" stroke="#7c0a1c" stroke-width="0.5"/>
<circle cx="494.0" cy="535.6" r="2.0" fill="#c2082b" stroke="#7c0a1c" stroke-width="0.5"/>
<circle cx="497.9" cy="537.5" r="2.0" fill="#c2082b" stroke="#7c0a1c" stroke-width="0.5"/>
<circle cx="445.6" cy="537.5" r="2.0" fill="#c2082b" stroke="#7c0a1c" stroke-width="0.5"/>
<circle cx="448.5" cy="540.4" r="2.0" fill="#c2082b" stroke="#7c0a1c" stroke-width="0.5"/>
<circle cx="453.7" cy="538.5" r="2.0" fill="#c2082b" stroke="#7c0a1c" stroke-width="0.5"/>
<circle cx="461.3" cy="543.1" r="2.0" fill="#c2082b" stroke="#7c0a1c" stroke-width="0.5"/>
<circle cx="462.7" cy="541.7" r="2.0" fill="#c2082b" stroke="#7c0a1c" stroke-width="0.5"/>
<circle cx="467.7" cy="540.4" r="2.0" fill="#c2082b" stroke="#7c0a1c" stroke-width="0.5"/>
<circle cx="471.5" cy="542.1" r="2.0" fill="#c2082b" stroke="#7c0a1c" stroke-width="0.5"/>
<circle cx="472.3" cy="547.9" r="2.0" fill="#c2082b" stroke="#7c0a1c" stroke-width="0.5"/>
<circle cx="422.9" cy="547.9" r="2.0" fill="#c2082b" stroke="#7c0a1c" stroke-width="0.5"/>
<circle cx="429.2" cy="549.0" r="2.0" fill="#c2082b" stroke="#7c0a1c" stroke-width="0.5"/>
<circle cx="436.0" cy="546.0" r="2.0" fill="#c2082b" stroke="#7c0a1c" stroke-width="0.5"/>
<circle cx="442.1" cy="547.1" r="2.0" fill="#c2082b" stroke="#7c0a1c" stroke-width="0.5"/>
<circle cx="449.4" cy="545.6" r="2.0" fill="#c2082b" stroke="#7c0a1c" stroke-width="0.5"/>
<circle cx="449.8" cy="550.4" r="2.0" fill="#c2082b" stroke="#7c0a1c" stroke-width="0.5"/>
<circle cx="454.6" cy="550.4" r="2.0" fill="#c2082b" stroke="#7c0a1c" stroke-width="0.5"/>
<circle cx="449.8" cy="553.8" r="2.0" fill="#c2082b" stroke="#7c0a1c" stroke-width="0.5"/>
<circle cx="434.4" cy="555.2" r="2.0" fill="#c2082b" stroke="#7c0a1c" stroke-width="0.5"/>
<circle cx="436.3" cy="556.2" r="2.0" fill="#c2082b" stroke="#7c0a1c" stroke-width="0.5"/>
<circle cx="424.2" cy="558.5" r="2.0" fill="#c2082b" stroke="#7c0a1c" stroke-width="0.5"/>
<circle cx="435.8" cy="559.6" r="2.0" fill="#c2082b" stroke="#7c0a1c" stroke-width="0.5"/>
<circle cx="446.0" cy="560.4" r="2.0" fill="#c2082b" stroke="#7c0a1c" stroke-width="0.5"/>
<circle cx="458.5" cy="557.7" r="2.0" fill="#c2082b" stroke="#7c0a1c" stroke-width="0.5"/>
<circle cx="460.0" cy="559.6" r="2.0" fill="#c2082b" stroke="#7c0a1c" stroke-width="0.5"/>
<circle cx="465.2" cy="563.5" r="2.0" fill="#c2082b" stroke="#7c0a1c" stroke-width="0.5"/>
<circle cx="435.8" cy="563.5" r="2.0" fill="#c2082b" stroke="#7c0a1c" stroke-width="0.5"/>
<circle cx="430.6" cy="568.1" r="2.0" fill="#c2082b" stroke="#7c0a1c" stroke-width="0.5"/>
<circle cx="448.5" cy="571.2" r="2.0" fill="#c2082b" stroke="#7c0a1c" stroke-width="0.5"/>
<circle cx="448.8" cy="573.1" r="2.0" fill="#c2082b" stroke="#7c0a1c" stroke-width="0.5"/>
<circle cx="458.5" cy="575.4" r="2.0" fill="#c2082b" stroke="#7c0a1c" stroke-width="0.5"/>
<circle cx="431.9" cy="575.4" r="2.0" fill="#c2082b" stroke="#7c0a1c" stroke-width="0.5"/>
<circle cx="431.9" cy="581.2" r="2.0" fill="#c2082b" stroke="#7c0a1c" stroke-width="0.5"/>
<circle cx="452.1" cy="579.6" r="2.0" fill="#c2082b" stroke="#7c0a1c" stroke-width="0.5"/>
<circle cx="454.6" cy="583.1" r="2.0" fill="#c2082b" stroke="#7c0a1c" stroke-width="0.5"/>
<circle cx="420.0" cy="588.5" r="2.0" fill="#c2082b" stroke="#7c0a1c" stroke-width="0.5"/>
<circle cx="424.2" cy="591.7" r="2.0" fill="#c2082b" stroke="#7c0a1c" stroke-width="0.5"/>
<circle cx="431.9" cy="591.7" r="2.0" fill="#c2082b" stroke="#7c0a1c" stroke-width="0.5"/>
<circle cx="483.8" cy="588.5" r="2.0" fill="#c2082b" stroke="#7c0a1c" stroke-width="0.5"/>
<circle cx="429.6" cy="568.5" r="2.0" fill="#c2082b" stroke="#7c0a1c" stroke-width="0.5"/>
</svg>
</body></html>
